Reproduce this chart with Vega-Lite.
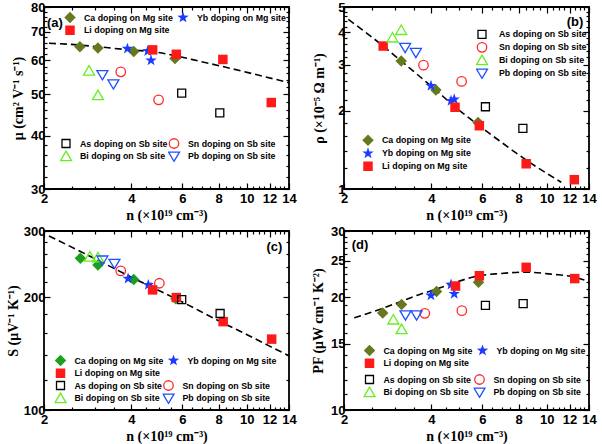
{
  "$schema": "https://vega.github.io/schema/vega-lite/v6.json",
  "padding": {"left": 5, "top": 0, "right": 0, "bottom": 0},
  "background": "white",
  "config": {
    "view": {"stroke": "black", "strokeWidth": 1.8},
    "axis": {"labelFont": "Liberation Sans", "labelFontWeight": "bold", "labelFontSize": 13, "labelColor": "black", "titleFont": "Liberation Serif", "titleFontWeight": "bold", "titleFontSize": 14, "titleColor": "black", "domain": false, "grid": false, "tickColor": "black", "tickWidth": 1.2, "labelFlush": false, "labelOverlap": false, "labelBound": false},
    "legend": {"labelFont": "Liberation Sans", "labelFontWeight": "bold", "labelFontSize": 8.8, "labelColor": "black", "symbolSize": 100, "symbolStrokeWidth": 1.3, "labelOffset": 8, "rowPadding": 0, "clipHeight": 12.7, "padding": 0, "title": null, "direction": "horizontal"},
    "point": {"opacity": 1}
  },
  "resolve": {"scale": {"color": "independent", "shape": "independent"}},
  "datasets": {
    "pts": [
      {"p":"a","site":"Mg","g":"Ca","n":2.66,"v":64.6},{"p":"a","site":"Mg","g":"Ca","n":3.07,"v":64.1},{"p":"a","site":"Mg","g":"Ca","n":4.08,"v":62.9},{"p":"a","site":"Mg","g":"Ca","n":5.66,"v":60.6},
      {"p":"a","site":"Mg","g":"Yb","n":3.88,"v":63.9},{"p":"a","site":"Mg","g":"Yb","n":4.56,"v":63.1},{"p":"a","site":"Mg","g":"Yb","n":4.68,"v":60.0},
      {"p":"a","site":"Mg","g":"Li","n":4.74,"v":63.5},{"p":"a","site":"Mg","g":"Li","n":5.72,"v":62.0},{"p":"a","site":"Mg","g":"Li","n":8.28,"v":60.3},{"p":"a","site":"Mg","g":"Li","n":12.16,"v":47.8},
      {"p":"a","site":"Sb","g":"As","n":5.97,"v":50.3},{"p":"a","site":"Sb","g":"As","n":8.08,"v":45.2},
      {"p":"a","site":"Sb","g":"Sn","n":3.68,"v":56.4},{"p":"a","site":"Sb","g":"Sn","n":4.97,"v":48.5},
      {"p":"a","site":"Sb","g":"Bi","n":2.86,"v":56.7},{"p":"a","site":"Sb","g":"Bi","n":3.07,"v":49.7},
      {"p":"a","site":"Sb","g":"Pb","n":3.18,"v":55.5},{"p":"a","site":"Sb","g":"Pb","n":3.47,"v":52.8},

      {"p":"b","site":"Mg","g":"Ca","n":3.15,"v":3.10},{"p":"b","site":"Mg","g":"Ca","n":4.15,"v":2.40},{"p":"b","site":"Mg","g":"Ca","n":5.8,"v":1.80},
      {"p":"b","site":"Mg","g":"Yb","n":3.99,"v":2.49},{"p":"b","site":"Mg","g":"Yb","n":4.68,"v":2.18},{"p":"b","site":"Mg","g":"Yb","n":4.8,"v":2.21},
      {"p":"b","site":"Mg","g":"Li","n":2.73,"v":3.54},{"p":"b","site":"Mg","g":"Li","n":4.83,"v":2.06},{"p":"b","site":"Mg","g":"Li","n":5.86,"v":1.75},{"p":"b","site":"Mg","g":"Li","n":8.5,"v":1.25},{"p":"b","site":"Mg","g":"Li","n":12.46,"v":1.086},
      {"p":"b","site":"Sb","g":"As","n":6.15,"v":2.07},{"p":"b","site":"Sb","g":"As","n":8.28,"v":1.71},
      {"p":"b","site":"Sb","g":"Sn","n":3.76,"v":2.99},{"p":"b","site":"Sb","g":"Sn","n":5.09,"v":2.59},
      {"p":"b","site":"Sb","g":"Bi","n":2.94,"v":3.81},{"p":"b","site":"Sb","g":"Bi","n":3.15,"v":4.07},
      {"p":"b","site":"Sb","g":"Pb","n":3.25,"v":3.49},{"p":"b","site":"Sb","g":"Pb","n":3.54,"v":3.34},

      {"p":"c","site":"Mg","g":"Ca","n":2.67,"v":253.7},{"p":"c","site":"Mg","g":"Ca","n":3.07,"v":243.6},{"p":"c","site":"Mg","g":"Ca","n":4.08,"v":222.7},{"p":"c","site":"Mg","g":"Ca","n":5.7,"v":197.8},
      {"p":"c","site":"Mg","g":"Yb","n":3.9,"v":224},{"p":"c","site":"Mg","g":"Yb","n":4.58,"v":215.5},{"p":"c","site":"Mg","g":"Yb","n":4.68,"v":212},
      {"p":"c","site":"Mg","g":"Li","n":4.74,"v":209},{"p":"c","site":"Mg","g":"Li","n":5.72,"v":199.4},{"p":"c","site":"Mg","g":"Li","n":8.3,"v":172},{"p":"c","site":"Mg","g":"Li","n":12.2,"v":154.5},
      {"p":"c","site":"Sb","g":"As","n":5.97,"v":197},{"p":"c","site":"Sb","g":"As","n":8.1,"v":180.8},
      {"p":"c","site":"Sb","g":"Sn","n":3.68,"v":234.8},{"p":"c","site":"Sb","g":"Sn","n":5.0,"v":217.7},
      {"p":"c","site":"Sb","g":"Bi","n":2.88,"v":256},{"p":"c","site":"Sb","g":"Bi","n":3.07,"v":254.8},
      {"p":"c","site":"Sb","g":"Pb","n":3.18,"v":250.7},{"p":"c","site":"Sb","g":"Pb","n":3.5,"v":245.6},

      {"p":"d","site":"Mg","g":"Ca","n":2.72,"v":18.15},{"p":"d","site":"Mg","g":"Ca","n":3.16,"v":19.1},{"p":"d","site":"Mg","g":"Ca","n":4.17,"v":20.7},{"p":"d","site":"Mg","g":"Ca","n":5.82,"v":21.9},
      {"p":"d","site":"Mg","g":"Yb","n":3.99,"v":20.2},{"p":"d","site":"Mg","g":"Yb","n":4.68,"v":21.6},{"p":"d","site":"Mg","g":"Yb","n":4.8,"v":20.4},
      {"p":"d","site":"Mg","g":"Li","n":4.85,"v":21.4},{"p":"d","site":"Mg","g":"Li","n":5.86,"v":22.8},{"p":"d","site":"Mg","g":"Li","n":8.5,"v":24.0},{"p":"d","site":"Mg","g":"Li","n":12.5,"v":22.4},
      {"p":"d","site":"Sb","g":"As","n":6.15,"v":19.0},{"p":"d","site":"Sb","g":"As","n":8.3,"v":19.2},
      {"p":"d","site":"Sb","g":"Sn","n":3.8,"v":18.1},{"p":"d","site":"Sb","g":"Sn","n":5.1,"v":18.4},
      {"p":"d","site":"Sb","g":"Bi","n":2.96,"v":17.4},{"p":"d","site":"Sb","g":"Bi","n":3.16,"v":16.4},
      {"p":"d","site":"Sb","g":"Pb","n":3.26,"v":17.9},{"p":"d","site":"Sb","g":"Pb","n":3.56,"v":17.9}
    ],
    "lines": [
      {"p":"a","n":2.08,"v":65.8},{"p":"a","n":2.64,"v":65.2},{"p":"a","n":3.06,"v":64.6},{"p":"a","n":4.04,"v":63.4},{"p":"a","n":4.74,"v":62.9},{"p":"a","n":5.69,"v":61.5},{"p":"a","n":6.83,"v":59.8},{"p":"a","n":8.22,"v":58.1},{"p":"a","n":10.2,"v":56.1},{"p":"a","n":14,"v":53.2},
      {"p":"b","n":2.07,"v":4.48},{"p":"b","n":2.73,"v":3.54},{"p":"b","n":3.15,"v":3.10},{"p":"b","n":4.15,"v":2.396},{"p":"b","n":4.83,"v":2.068},{"p":"b","n":5.8,"v":1.764},{"p":"b","n":6.87,"v":1.532},{"p":"b","n":8.5,"v":1.292},{"p":"b","n":11.23,"v":1.061},
      {"p":"c","n":2.08,"v":291},{"p":"c","n":3,"v":253},{"p":"c","n":4,"v":226},{"p":"c","n":6,"v":194},{"p":"c","n":8,"v":173},{"p":"c","n":10,"v":159},{"p":"c","n":12,"v":148},{"p":"c","n":14,"v":139.5},
      {"p":"d","n":2.17,"v":17.6},{"p":"d","n":2.74,"v":18.7},{"p":"d","n":3.16,"v":19.5},{"p":"d","n":3.63,"v":20.3},{"p":"d","n":4.17,"v":21.0},{"p":"d","n":4.85,"v":21.9},{"p":"d","n":5.86,"v":22.8},{"p":"d","n":6.87,"v":23.1},{"p":"d","n":8.5,"v":23.3},{"p":"d","n":10.5,"v":23.0},{"p":"d","n":12.5,"v":22.6},{"p":"d","n":14,"v":22.0}
    ],
    "labels": [
      {"p":"a","t":"(a)","n":2.18,"v":73.5},{"p":"b","t":"(b)","n":12.53,"v":4.39},{"p":"c","t":"(c)","n":12.46,"v":272},{"p":"d","t":"(d)","n":2.27,"v":27.5}
    ]
  },
  "columns": 2,
  "spacing": {"row": 42, "column": 55},
  "bounds": "flush",
  "concat": [
    {
      "width": 245, "height": 182,
      "layer": [
        {"data": {"name": "lines"}, "transform": [{"filter": "datum.p==='a'"}],
         "mark": {"type": "line", "color": "black", "strokeDash": [7, 4], "strokeWidth": 1.6, "interpolate": "monotone"},
         "encoding": {
           "x": {"field": "n", "type": "quantitative", "scale": {"type": "log", "domain": [2, 14], "nice": false},
                 "axis": {"orient": "bottom", "title": "n (×10¹⁹ cm⁻³)", "values": [2,2.5,3,3.5,4,4.5,5,5.5,6,6.5,7,7.5,8,8.5,9,9.5,10,10.5,11,11.5,12,12.5,13,13.5,14], "labelExpr": "datum.value % 2 === 0 ? format(datum.value, 'd') : ''", "tickSize": {"condition": {"test": "datum.value % 2 === 0", "value": -6}, "value": -3}, "labelPadding": 9, "titlePadding": 0}},
           "y": {"field": "v", "type": "quantitative", "scale": {"type": "log", "domain": [30, 80], "nice": false},
                 "axis": {"orient": "left", "title": "μ (cm² V⁻¹ s⁻¹)", "values": [30,32,34,36,38,40,42,44,46,48,50,52,54,56,58,60,62,64,66,68,70,72,74,76,78,80], "labelExpr": "datum.value % 10 === 0 ? format(datum.value, 'd') : ''", "tickSize": {"condition": {"test": "datum.value % 10 === 0", "value": -6}, "value": -3}, "labelPadding": 5, "titlePadding": 5}}
         }},
        {"data": {"name": "pts"}, "transform": [{"filter": "datum.p==='a' && datum.site==='Mg'"}],
         "mark": {"type": "point", "filled": true, "size": 100},
         "encoding": {
           "x": {"field": "n", "type": "quantitative", "scale": {"type": "log", "domain": [2, 14], "nice": false},
                 "axis": {"orient": "top", "title": null, "labels": false, "values": [2,2.5,3,3.5,4,4.5,5,5.5,6,6.5,7,7.5,8,8.5,9,9.5,10,10.5,11,11.5,12,12.5,13,13.5,14], "tickSize": {"condition": {"test": "datum.value % 2 === 0", "value": -6}, "value": -3}}},
           "y": {"field": "v", "type": "quantitative", "scale": {"type": "log", "domain": [30, 80], "nice": false},
                 "axis": {"orient": "right", "title": null, "labels": false, "values": [30,32,34,36,38,40,42,44,46,48,50,52,54,56,58,60,62,64,66,68,70,72,74,76,78,80], "tickSize": {"condition": {"test": "datum.value % 10 === 0", "value": -6}, "value": -3}}},
           "color": {"field": "g", "type": "nominal", "scale": {"domain": ["Ca", "Yb", "Li"], "range": ["#65791f", "#1a3cff", "#ff1a1a"]},
                     "legend": {"orient": "none", "legendX": 20, "legendY": 4, "columns": 2, "columnPadding": 4, "labelExpr": "datum.label + ' doping on Mg site'"}},
           "shape": {"field": "g", "type": "nominal", "scale": {"domain": ["Ca", "Yb", "Li"], "range": ["M0,-1.15L1.15,0L0,1.15L-1.15,0Z", "M0,-1.2L0.282,-0.389L1.141,-0.371L0.456,0.149L0.706,0.971L0,0.48L-0.706,0.971L-0.456,0.149L-1.141,-0.371L-0.282,-0.389Z", "M-0.95,-0.95H0.95V0.95H-0.95Z"]},
                     "legend": {"orient": "none", "legendX": 20, "legendY": 4, "columns": 2, "columnPadding": 4, "labelExpr": "datum.label + ' doping on Mg site'"}}
         }},
        {"data": {"name": "pts"}, "transform": [{"filter": "datum.p==='a' && datum.site==='Sb'"}],
         "mark": {"type": "point", "filled": false, "size": 100, "strokeWidth": 1.3},
         "encoding": {
           "x": {"field": "n", "type": "quantitative", "scale": {"type": "log", "domain": [2, 14], "nice": false}, "axis": null},
           "y": {"field": "v", "type": "quantitative", "scale": {"type": "log", "domain": [30, 80], "nice": false}, "axis": null},
           "color": {"field": "g", "type": "nominal", "scale": {"domain": ["As", "Sn", "Bi", "Pb"], "range": ["#000000", "#ff2a2a", "#66ee22", "#1f4fff"]},
                     "legend": {"orient": "none", "legendX": 16, "legendY": 130, "columns": 2, "columnPadding": 0, "labelExpr": "datum.label + ' doping on Sb site'"}},
           "shape": {"field": "g", "type": "nominal", "scale": {"domain": ["As", "Sn", "Bi", "Pb"], "range": ["M-0.8,-0.8H0.8V0.8H-0.8Z", "M0.95,0A0.95,0.95 0 1,1 -0.95,0A0.95,0.95 0 1,1 0.95,0Z", "M0,-1.05L1.1,0.85L-1.1,0.85Z", "M0,1.0L1.1,-0.85L-1.1,-0.85Z"]},
                     "legend": {"orient": "none", "legendX": 16, "legendY": 130, "columns": 2, "columnPadding": 0, "labelExpr": "datum.label + ' doping on Sb site'"}}
         }},
        {"data": {"name": "labels"}, "transform": [{"filter": "datum.p==='a'"}],
         "mark": {"type": "text", "font": "Liberation Sans", "fontWeight": "bold", "fontSize": 13, "color": "black"},
         "encoding": {
           "x": {"field": "n", "type": "quantitative", "scale": {"type": "log", "domain": [2, 14], "nice": false}, "axis": null},
           "y": {"field": "v", "type": "quantitative", "scale": {"type": "log", "domain": [30, 80], "nice": false}, "axis": null},
           "text": {"field": "t"}
         }}
      ],
      "resolve": {"scale": {"color": "independent", "shape": "independent"}, "axis": {"x": "independent", "y": "independent"}}
    },
    {
      "width": 245, "height": 182,
      "layer": [
        {"data": {"name": "lines"}, "transform": [{"filter": "datum.p==='b'"}],
         "mark": {"type": "line", "color": "black", "strokeDash": [7, 4], "strokeWidth": 1.6, "interpolate": "monotone"},
         "encoding": {
           "x": {"field": "n", "type": "quantitative", "scale": {"type": "log", "domain": [2, 14], "nice": false},
                 "axis": {"orient": "bottom", "title": "n (×10¹⁹ cm⁻³)", "values": [2,2.5,3,3.5,4,4.5,5,5.5,6,6.5,7,7.5,8,8.5,9,9.5,10,10.5,11,11.5,12,12.5,13,13.5,14], "labelExpr": "datum.value % 2 === 0 ? format(datum.value, 'd') : ''", "tickSize": {"condition": {"test": "datum.value % 2 === 0", "value": -6}, "value": -3}, "labelPadding": 9, "titlePadding": 0}},
           "y": {"field": "v", "type": "quantitative", "scale": {"type": "log", "domain": [1, 5], "nice": false},
                 "axis": {"orient": "left", "title": "ρ (×10⁻⁵ Ω m⁻¹)", "values": [1,1.2,1.4,1.6,1.8,2,2.2,2.4,2.6,2.8,3,3.2,3.4,3.6,3.8,4,4.2,4.4,4.6,4.8,5], "labelExpr": "datum.value % 1 === 0 ? format(datum.value, 'd') : ''", "tickSize": {"condition": {"test": "datum.value % 1 === 0", "value": -6}, "value": -3}, "labelPadding": 5, "titlePadding": 11}}
         }},
        {"data": {"name": "pts"}, "transform": [{"filter": "datum.p==='b' && datum.site==='Mg'"}],
         "mark": {"type": "point", "filled": true, "size": 100},
         "encoding": {
           "x": {"field": "n", "type": "quantitative", "scale": {"type": "log", "domain": [2, 14], "nice": false},
                 "axis": {"orient": "top", "title": null, "labels": false, "values": [2,2.5,3,3.5,4,4.5,5,5.5,6,6.5,7,7.5,8,8.5,9,9.5,10,10.5,11,11.5,12,12.5,13,13.5,14], "tickSize": {"condition": {"test": "datum.value % 2 === 0", "value": -6}, "value": -3}}},
           "y": {"field": "v", "type": "quantitative", "scale": {"type": "log", "domain": [1, 5], "nice": false},
                 "axis": {"orient": "right", "title": null, "labels": false, "values": [1,1.2,1.4,1.6,1.8,2,2.2,2.4,2.6,2.8,3,3.2,3.4,3.6,3.8,4,4.2,4.4,4.6,4.8,5], "tickSize": {"condition": {"test": "datum.value % 1 === 0", "value": -6}, "value": -3}}},
           "color": {"field": "g", "type": "nominal", "scale": {"domain": ["Ca", "Yb", "Li"], "range": ["#65791f", "#1a3cff", "#ff1a1a"]},
                     "legend": {"orient": "none", "legendX": 18, "legendY": 127, "columns": 1, "labelExpr": "datum.label + ' doping on Mg site'"}},
           "shape": {"field": "g", "type": "nominal", "scale": {"domain": ["Ca", "Yb", "Li"], "range": ["M0,-1.15L1.15,0L0,1.15L-1.15,0Z", "M0,-1.2L0.282,-0.389L1.141,-0.371L0.456,0.149L0.706,0.971L0,0.48L-0.706,0.971L-0.456,0.149L-1.141,-0.371L-0.282,-0.389Z", "M-0.95,-0.95H0.95V0.95H-0.95Z"]},
                     "legend": {"orient": "none", "legendX": 18, "legendY": 127, "columns": 1, "labelExpr": "datum.label + ' doping on Mg site'"}}
         }},
        {"data": {"name": "pts"}, "transform": [{"filter": "datum.p==='b' && datum.site==='Sb'"}],
         "mark": {"type": "point", "filled": false, "size": 100, "strokeWidth": 1.3},
         "encoding": {
           "x": {"field": "n", "type": "quantitative", "scale": {"type": "log", "domain": [2, 14], "nice": false}, "axis": null},
           "y": {"field": "v", "type": "quantitative", "scale": {"type": "log", "domain": [1, 5], "nice": false}, "axis": null},
           "color": {"field": "g", "type": "nominal", "scale": {"domain": ["As", "Sn", "Bi", "Pb"], "range": ["#000000", "#ff2a2a", "#66ee22", "#1f4fff"]},
                     "legend": {"orient": "none", "legendX": 132, "legendY": 21, "columns": 1, "labelOffset": 11, "labelExpr": "datum.label + ' doping on Sb site'"}},
           "shape": {"field": "g", "type": "nominal", "scale": {"domain": ["As", "Sn", "Bi", "Pb"], "range": ["M-0.8,-0.8H0.8V0.8H-0.8Z", "M0.95,0A0.95,0.95 0 1,1 -0.95,0A0.95,0.95 0 1,1 0.95,0Z", "M0,-1.05L1.1,0.85L-1.1,0.85Z", "M0,1.0L1.1,-0.85L-1.1,-0.85Z"]},
                     "legend": {"orient": "none", "legendX": 132, "legendY": 21, "columns": 1, "labelOffset": 11, "labelExpr": "datum.label + ' doping on Sb site'"}}
         }},
        {"data": {"name": "labels"}, "transform": [{"filter": "datum.p==='b'"}],
         "mark": {"type": "text", "font": "Liberation Sans", "fontWeight": "bold", "fontSize": 13, "color": "black"},
         "encoding": {
           "x": {"field": "n", "type": "quantitative", "scale": {"type": "log", "domain": [2, 14], "nice": false}, "axis": null},
           "y": {"field": "v", "type": "quantitative", "scale": {"type": "log", "domain": [1, 5], "nice": false}, "axis": null},
           "text": {"field": "t"}
         }}
      ],
      "resolve": {"scale": {"color": "independent", "shape": "independent"}, "axis": {"x": "independent", "y": "independent"}}
    },
    {
      "width": 245, "height": 179,
      "layer": [
        {"data": {"name": "lines"}, "transform": [{"filter": "datum.p==='c'"}],
         "mark": {"type": "line", "color": "black", "strokeDash": [7, 4], "strokeWidth": 1.6, "interpolate": "monotone"},
         "encoding": {
           "x": {"field": "n", "type": "quantitative", "scale": {"type": "log", "domain": [2, 14], "nice": false},
                 "axis": {"orient": "bottom", "title": "n (×10¹⁹ cm⁻³)", "values": [2,2.5,3,3.5,4,4.5,5,5.5,6,6.5,7,7.5,8,8.5,9,9.5,10,10.5,11,11.5,12,12.5,13,13.5,14], "labelExpr": "datum.value % 2 === 0 ? format(datum.value, 'd') : ''", "tickSize": {"condition": {"test": "datum.value % 2 === 0", "value": -6}, "value": -3}, "labelPadding": 9, "titlePadding": 0}},
           "y": {"field": "v", "type": "quantitative", "scale": {"type": "log", "domain": [100, 300], "nice": false},
                 "axis": {"orient": "left", "title": "S (μV⁻¹ K⁻¹)", "values": [100,120,140,160,180,200,220,240,260,280,300], "labelExpr": "datum.value % 100 === 0 ? format(datum.value, 'd') : ''", "tickSize": {"condition": {"test": "datum.value % 100 === 0", "value": -6}, "value": -3}, "labelPadding": 5, "titlePadding": 3}}
         }},
        {"data": {"name": "pts"}, "transform": [{"filter": "datum.p==='c' && datum.site==='Mg'"}],
         "mark": {"type": "point", "filled": true, "size": 100},
         "encoding": {
           "x": {"field": "n", "type": "quantitative", "scale": {"type": "log", "domain": [2, 14], "nice": false},
                 "axis": {"orient": "top", "title": null, "labels": false, "values": [2,2.5,3,3.5,4,4.5,5,5.5,6,6.5,7,7.5,8,8.5,9,9.5,10,10.5,11,11.5,12,12.5,13,13.5,14], "tickSize": {"condition": {"test": "datum.value % 2 === 0", "value": -6}, "value": -3}}},
           "y": {"field": "v", "type": "quantitative", "scale": {"type": "log", "domain": [100, 300], "nice": false},
                 "axis": {"orient": "right", "title": null, "labels": false, "values": [100,120,140,160,180,200,220,240,260,280,300], "tickSize": {"condition": {"test": "datum.value % 100 === 0", "value": -6}, "value": -3}}},
           "color": {"field": "g", "type": "nominal", "scale": {"domain": ["Ca", "Yb", "Li"], "range": ["#1ca01c", "#1a3cff", "#ff1a1a"]},
                     "legend": {"orient": "none", "legendX": 10.5, "legendY": 123, "columns": 2, "columnPadding": 4, "labelExpr": "datum.label + ' doping on Mg site'"}},
           "shape": {"field": "g", "type": "nominal", "scale": {"domain": ["Ca", "Yb", "Li"], "range": ["M0,-1.15L1.15,0L0,1.15L-1.15,0Z", "M0,-1.2L0.282,-0.389L1.141,-0.371L0.456,0.149L0.706,0.971L0,0.48L-0.706,0.971L-0.456,0.149L-1.141,-0.371L-0.282,-0.389Z", "M-0.95,-0.95H0.95V0.95H-0.95Z"]},
                     "legend": {"orient": "none", "legendX": 10.5, "legendY": 123, "columns": 2, "columnPadding": 4, "labelExpr": "datum.label + ' doping on Mg site'"}}
         }},
        {"data": {"name": "pts"}, "transform": [{"filter": "datum.p==='c' && datum.site==='Sb'"}],
         "mark": {"type": "point", "filled": false, "size": 100, "strokeWidth": 1.3},
         "encoding": {
           "x": {"field": "n", "type": "quantitative", "scale": {"type": "log", "domain": [2, 14], "nice": false}, "axis": null},
           "y": {"field": "v", "type": "quantitative", "scale": {"type": "log", "domain": [100, 300], "nice": false}, "axis": null},
           "color": {"field": "g", "type": "nominal", "scale": {"domain": ["As", "Sn", "Bi", "Pb"], "range": ["#000000", "#ff2a2a", "#66ee22", "#1f4fff"]},
                     "legend": {"orient": "none", "legendX": 10.5, "legendY": 148, "columns": 2, "columnPadding": 0, "labelExpr": "datum.label + ' doping on Sb site'"}},
           "shape": {"field": "g", "type": "nominal", "scale": {"domain": ["As", "Sn", "Bi", "Pb"], "range": ["M-0.8,-0.8H0.8V0.8H-0.8Z", "M0.95,0A0.95,0.95 0 1,1 -0.95,0A0.95,0.95 0 1,1 0.95,0Z", "M0,-1.05L1.1,0.85L-1.1,0.85Z", "M0,1.0L1.1,-0.85L-1.1,-0.85Z"]},
                     "legend": {"orient": "none", "legendX": 10.5, "legendY": 148, "columns": 2, "columnPadding": 0, "labelExpr": "datum.label + ' doping on Sb site'"}}
         }},
        {"data": {"name": "labels"}, "transform": [{"filter": "datum.p==='c'"}],
         "mark": {"type": "text", "font": "Liberation Sans", "fontWeight": "bold", "fontSize": 13, "color": "black"},
         "encoding": {
           "x": {"field": "n", "type": "quantitative", "scale": {"type": "log", "domain": [2, 14], "nice": false}, "axis": null},
           "y": {"field": "v", "type": "quantitative", "scale": {"type": "log", "domain": [100, 300], "nice": false}, "axis": null},
           "text": {"field": "t"}
         }}
      ],
      "resolve": {"scale": {"color": "independent", "shape": "independent"}, "axis": {"x": "independent", "y": "independent"}}
    },
    {
      "width": 245, "height": 179,
      "layer": [
        {"data": {"name": "lines"}, "transform": [{"filter": "datum.p==='d'"}],
         "mark": {"type": "line", "color": "black", "strokeDash": [7, 4], "strokeWidth": 1.6, "interpolate": "monotone"},
         "encoding": {
           "x": {"field": "n", "type": "quantitative", "scale": {"type": "log", "domain": [2, 14], "nice": false},
                 "axis": {"orient": "bottom", "title": "n (×10¹⁹ cm⁻³)", "values": [2,2.5,3,3.5,4,4.5,5,5.5,6,6.5,7,7.5,8,8.5,9,9.5,10,10.5,11,11.5,12,12.5,13,13.5,14], "labelExpr": "datum.value % 2 === 0 ? format(datum.value, 'd') : ''", "tickSize": {"condition": {"test": "datum.value % 2 === 0", "value": -6}, "value": -3}, "labelPadding": 9, "titlePadding": 0}},
           "y": {"field": "v", "type": "quantitative", "scale": {"type": "log", "domain": [10, 30], "nice": false},
                 "axis": {"orient": "left", "title": "PF (μW cm⁻¹ K⁻²)", "values": [10,11,12,13,14,15,16,17,18,19,20,21,22,23,24,25,26,27,28,29,30], "labelExpr": "datum.value % 5 === 0 ? format(datum.value, 'd') : ''", "tickSize": {"condition": {"test": "datum.value % 5 === 0", "value": -6}, "value": -3}, "labelPadding": 5, "titlePadding": 5}}
         }},
        {"data": {"name": "pts"}, "transform": [{"filter": "datum.p==='d' && datum.site==='Mg'"}],
         "mark": {"type": "point", "filled": true, "size": 100},
         "encoding": {
           "x": {"field": "n", "type": "quantitative", "scale": {"type": "log", "domain": [2, 14], "nice": false},
                 "axis": {"orient": "top", "title": null, "labels": false, "values": [2,2.5,3,3.5,4,4.5,5,5.5,6,6.5,7,7.5,8,8.5,9,9.5,10,10.5,11,11.5,12,12.5,13,13.5,14], "tickSize": {"condition": {"test": "datum.value % 2 === 0", "value": -6}, "value": -3}}},
           "y": {"field": "v", "type": "quantitative", "scale": {"type": "log", "domain": [10, 30], "nice": false},
                 "axis": {"orient": "right", "title": null, "labels": false, "values": [10,11,12,13,14,15,16,17,18,19,20,21,22,23,24,25,26,27,28,29,30], "tickSize": {"condition": {"test": "datum.value % 5 === 0", "value": -6}, "value": -3}}},
           "color": {"field": "g", "type": "nominal", "scale": {"domain": ["Ca", "Yb", "Li"], "range": ["#65791f", "#1a3cff", "#ff1a1a"]},
                     "legend": {"orient": "none", "legendX": 19.5, "legendY": 113, "columns": 2, "columnPadding": 4, "labelExpr": "datum.label + ' doping on Mg site'"}},
           "shape": {"field": "g", "type": "nominal", "scale": {"domain": ["Ca", "Yb", "Li"], "range": ["M0,-1.15L1.15,0L0,1.15L-1.15,0Z", "M0,-1.2L0.282,-0.389L1.141,-0.371L0.456,0.149L0.706,0.971L0,0.48L-0.706,0.971L-0.456,0.149L-1.141,-0.371L-0.282,-0.389Z", "M-0.95,-0.95H0.95V0.95H-0.95Z"]},
                     "legend": {"orient": "none", "legendX": 19.5, "legendY": 113, "columns": 2, "columnPadding": 4, "labelExpr": "datum.label + ' doping on Mg site'"}}
         }},
        {"data": {"name": "pts"}, "transform": [{"filter": "datum.p==='d' && datum.site==='Sb'"}],
         "mark": {"type": "point", "filled": false, "size": 100, "strokeWidth": 1.3},
         "encoding": {
           "x": {"field": "n", "type": "quantitative", "scale": {"type": "log", "domain": [2, 14], "nice": false}, "axis": null},
           "y": {"field": "v", "type": "quantitative", "scale": {"type": "log", "domain": [10, 30], "nice": false}, "axis": null},
           "color": {"field": "g", "type": "nominal", "scale": {"domain": ["As", "Sn", "Bi", "Pb"], "range": ["#000000", "#ff2a2a", "#66ee22", "#1f4fff"]},
                     "legend": {"orient": "none", "legendX": 19.5, "legendY": 142, "columns": 2, "columnPadding": 2, "labelExpr": "datum.label + ' doping on Sb site'"}},
           "shape": {"field": "g", "type": "nominal", "scale": {"domain": ["As", "Sn", "Bi", "Pb"], "range": ["M-0.8,-0.8H0.8V0.8H-0.8Z", "M0.95,0A0.95,0.95 0 1,1 -0.95,0A0.95,0.95 0 1,1 0.95,0Z", "M0,-1.05L1.1,0.85L-1.1,0.85Z", "M0,1.0L1.1,-0.85L-1.1,-0.85Z"]},
                     "legend": {"orient": "none", "legendX": 19.5, "legendY": 142, "columns": 2, "columnPadding": 2, "labelExpr": "datum.label + ' doping on Sb site'"}}
         }},
        {"data": {"name": "labels"}, "transform": [{"filter": "datum.p==='d'"}],
         "mark": {"type": "text", "font": "Liberation Sans", "fontWeight": "bold", "fontSize": 13, "color": "black"},
         "encoding": {
           "x": {"field": "n", "type": "quantitative", "scale": {"type": "log", "domain": [2, 14], "nice": false}, "axis": null},
           "y": {"field": "v", "type": "quantitative", "scale": {"type": "log", "domain": [10, 30], "nice": false}, "axis": null},
           "text": {"field": "t"}
         }}
      ],
      "resolve": {"scale": {"color": "independent", "shape": "independent"}, "axis": {"x": "independent", "y": "independent"}}
    }
  ]
}
